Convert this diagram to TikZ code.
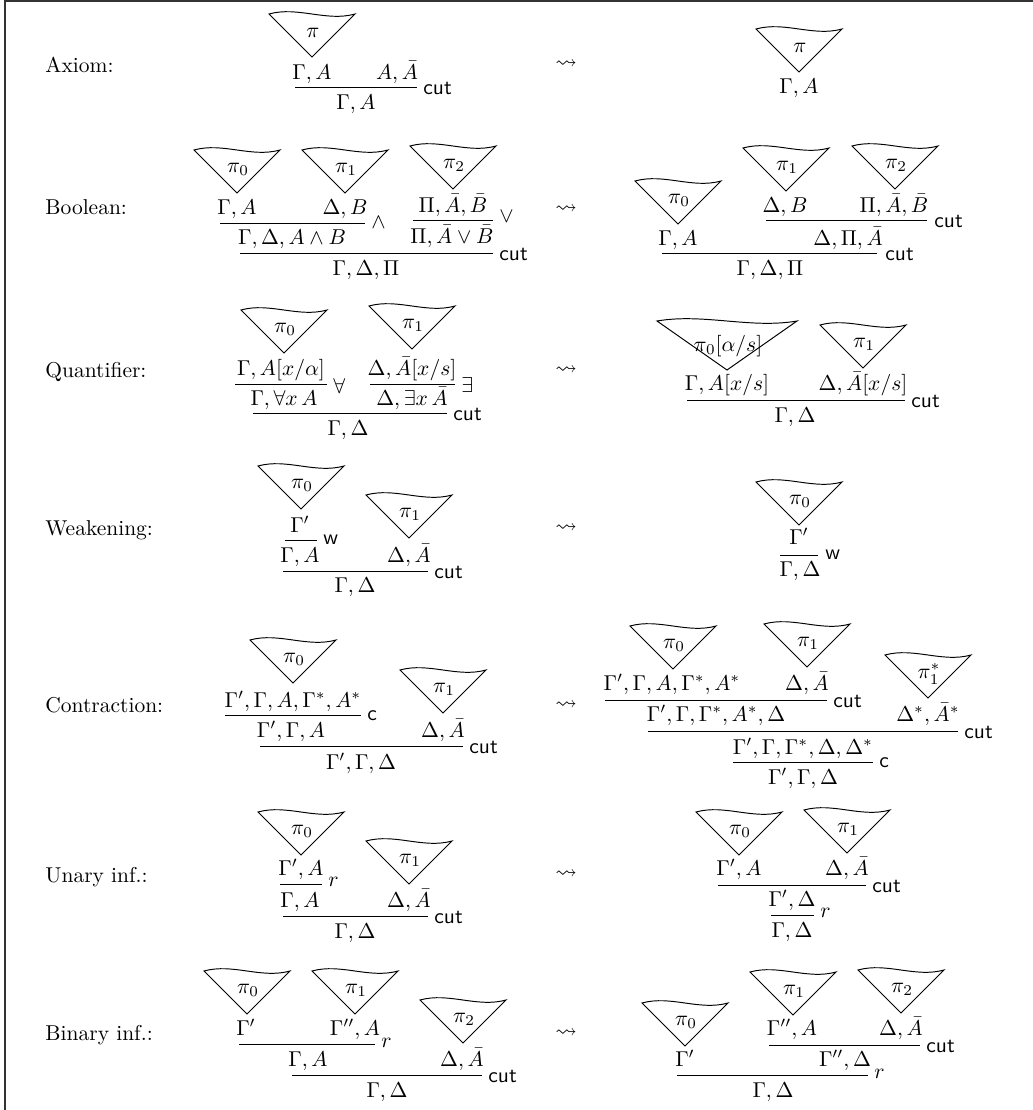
\documentclass[tikz,border=0pt]{standalone}
\usepackage{amssymb}
\newcommand\ptri[5]{%
  \begin{scope}[shift={(#2)}]
    \draw[tri] (-#3,-#4) .. controls (-#3/3,-#4-8) and (#3/3,-#4+8) .. (#3,-#4) -- (0,0) -- cycle;
    \node[inner sep=0pt] (#1) at (1,-24) {$#5$};
  \end{scope}}
\begin{document}
\begin{tikzpicture}[x=0.4651pt,y=-0.4651pt,
  seq/.style={anchor=base,inner sep=0pt},
  lab/.style={anchor=base west,inner sep=0pt},
  arr/.style={anchor=center,inner sep=0pt},
  rn/.style={anchor=west,inner sep=0pt},
  tri/.style={line width=0.45pt,line join=miter},
  inf/.style={line width=0.4pt}]
\useasboundingbox (0,0) rectangle (1033,1110);
\draw[line width=0.8pt,black!80] (5,1110) -- (5,1) -- (1033,1);

% ---------- Axiom
\node[lab] (l1) at (45,72) {Axiom:};
\node[arr] (t1) at (566,64) {$\leadsto$};
\ptri{aLt}{312,57}{43}{43}{\pi}
\node[seq] (aLp1) at (312,79) {$\Gamma, A$};
\node[seq] (aLp2) at (397,79) {$A, \bar A$};
\draw[inf] (295,87) -- (417,87);
\node[rn] (aLr) at (423,88) {\textsf{cut}};
\node[seq] (aLc) at (356,109) {$\Gamma, A$};
\ptri{aRt}{799,72}{43}{43}{\pi}
\node[seq] (aRc) at (799,93) {$\Gamma, A$};

% ---------- Boolean
\node[lab] (l2) at (45,214) {Boolean:};
\node[arr] (t2) at (566,209) {$\leadsto$};
\ptri{bLt0}{237,193}{43}{43}{\pi_0}
\ptri{bLt1}{345,193}{43}{43}{\pi_1}
\ptri{bLt2}{453,189}{43}{43}{\pi_2}
\node[seq] (bLp1) at (237,214) {$\Gamma, A$};
\node[seq] (bLp2) at (345,214) {$\Delta, B$};
\node[seq] (bLp3) at (453,212) {$\Pi, \bar A, \bar B$};
\draw[inf] (220,223) -- (365,223);
\node[rn] (bLr1) at (371,223) {$\wedge$};
\draw[inf] (413,220) -- (493,220);
\node[rn] (bLr2) at (499,217) {$\vee$};
\node[seq] (bLq1) at (292,244) {$\Gamma, \Delta, A \wedge B$};
\node[seq] (bLq2) at (452,243) {$\Pi, \bar A \vee \bar B$};
\draw[inf] (240,253) -- (493,253);
\node[rn] (bLr3) at (499,254) {\textsf{cut}};
\node[seq] (bLc) at (366,275) {$\Gamma, \Delta, \Pi$};
\ptri{bRt0}{678,224}{43}{43}{\pi_0}
\ptri{bRt1}{786,191}{43}{43}{\pi_1}
\ptri{bRt2}{895,189}{43}{43}{\pi_2}
\node[seq] (bRp2) at (785,212) {$\Delta, B$};
\node[seq] (bRp3) at (894,212) {$\Pi, \bar A, \bar B$};
\draw[inf] (766,220) -- (927,220);
\node[rn] (bRr1) at (934,221) {\textsf{cut}};
\node[seq] (bRp1) at (678,245) {$\Gamma, A$};
\node[seq] (bRq) at (848,245) {$\Delta, \Pi, \bar A$};
\draw[inf] (662,253) -- (877,253);
\node[rn] (bRr2) at (885,254) {\textsf{cut}};
\node[seq] (bRc) at (770,275) {$\Gamma, \Delta, \Pi$};

% ---------- Quantifier
\node[lab] (l3) at (45,377) {Quantifier:};
\node[arr] (t3) at (566,370) {$\leadsto$};
\ptri{qLt0}{284,353}{43}{43}{\pi_0}
\ptri{qLt1}{412,349}{43}{43}{\pi_1}
\node[seq] (qLp1) at (281,375) {$\Gamma, A[x/\alpha]$};
\node[seq] (qLp2) at (412,375) {$\Delta, \bar A[x/s]$};
\draw[inf] (235,384) -- (327,384);
\node[rn] (qLr1) at (333,386) {$\forall$};
\draw[inf] (370,384) -- (455,384);
\node[rn] (qLr2) at (461,385) {$\exists$};
\node[seq] (qLq1) at (284,405) {$\Gamma, \forall x\, A$};
\node[seq] (qLq2) at (412,405) {$\Delta, \exists x\, \bar A$};
\draw[inf] (253,413) -- (447,413);
\node[rn] (qLr3) at (453,414) {\textsf{cut}};
\node[seq] (qLc) at (348,435) {$\Gamma, \Delta$};
\ptri{qRt0}{727,370}{70}{49}{\pi_0[\alpha/s]}
\ptri{qRt1}{863,368}{43}{43}{\pi_1}
\node[seq] (qRp1) at (727,390) {$\Gamma, A[x/s]$};
\node[seq] (qRp2) at (863,390) {$\Delta, \bar A[x/s]$};
\draw[inf] (687,400) -- (905,400);
\node[rn] (qRr) at (911,401) {\textsf{cut}};
\node[seq] (qRc) at (795,422) {$\Gamma, \Delta$};

% ---------- Weakening
\node[lab] (l4) at (45,535) {Weakening:};
\node[arr] (t4) at (566,528) {$\leadsto$};
\ptri{wLt0}{301,509}{43}{43}{\pi_0}
\ptri{wLt1}{409,538}{43}{43}{\pi_1}
\node[seq] (wLp1) at (300,532) {$\Gamma'$};
\draw[inf] (285,540) -- (317,540);
\node[rn] (wLr1) at (323,540) {\textsf{w}};
\node[seq] (wLq1) at (300,562) {$\Gamma, A$};
\node[seq] (wLq2) at (409,562) {$\Delta, \bar A$};
\draw[inf] (283,571) -- (428,571);
\node[rn] (wLr2) at (434,572) {\textsf{cut}};
\node[seq] (wLc) at (355,592) {$\Gamma, \Delta$};
\ptri{wRt0}{799,525}{43}{43}{\pi_0}
\node[seq] (wRp) at (799,544) {$\Gamma'$};
\draw[inf] (780,555) -- (818,555);
\node[rn] (wRr) at (825,555) {\textsf{w}};
\node[seq] (wRc) at (800,576) {$\Gamma, \Delta$};

% ---------- Contraction
\node[lab] (l5) at (45,712) {Contraction:};
\node[arr] (t5) at (566,705) {$\leadsto$};
\ptri{cLt0}{293,683}{43}{43}{\pi_0}
\ptri{cLt1}{443,713}{43}{43}{\pi_1}
\node[seq] (cLp1) at (293,707) {$\Gamma', \Gamma, A, \Gamma^*, A^*$};
\draw[inf] (225,715) -- (361,715);
\node[rn] (cLr1) at (367,716) {\textsf{c}};
\node[seq] (cLq1) at (291,737) {$\Gamma', \Gamma, A$};
\node[seq] (cLq2) at (443,737) {$\Delta, \bar A$};
\draw[inf] (260,746) -- (463,746);
\node[rn] (cLr2) at (469,747) {\textsf{cut}};
\node[seq] (cLc) at (361,769) {$\Gamma', \Gamma, \Delta$};
\ptri{cRt0}{673,669}{43}{43}{\pi_0}
\ptri{cRt1}{807,667}{43}{43}{\pi_1}
\ptri{cRt2}{928,698}{43}{43}{\pi_1^*}
\node[seq] (cRp1) at (672,690) {$\Gamma', \Gamma, A, \Gamma^*, A^*$};
\node[seq] (cRp2) at (807,690) {$\Delta, \bar A$};
\draw[inf] (605,700) -- (827,700);
\node[rn] (cRr1) at (833,701) {\textsf{cut}};
\node[seq] (cRq1) at (716,721) {$\Gamma', \Gamma, \Gamma^*, A^*, \Delta$};
\node[seq] (cRq2) at (928,721) {$\Delta^*, \bar A^*$};
\draw[inf] (648,731) -- (958,731);
\node[rn] (cRr2) at (964,732) {\textsf{cut}};
\node[seq] (cRq3) at (803,754) {$\Gamma', \Gamma, \Gamma^*, \Delta, \Delta^*$};
\draw[inf] (733,762) -- (873,762);
\node[rn] (cRr3) at (879,763) {\textsf{c}};
\node[seq] (cRc) at (803,784) {$\Gamma', \Gamma, \Delta$};

% ---------- Unary inf.
\node[lab] (l6) at (45,882) {Unary inf.:};
\node[arr] (t6) at (566,874) {$\leadsto$};
\ptri{uLt0}{301,855}{43}{43}{\pi_0}
\ptri{uLt1}{409,884}{43}{43}{\pi_1}
\node[seq] (uLp1) at (301,875) {$\Gamma', A$};
\draw[inf] (280,884) -- (322,884);
\node[rn] (uLr1) at (328,882) {$r$};
\node[seq] (uLq1) at (300,907) {$\Gamma, A$};
\node[seq] (uLq2) at (409,907) {$\Delta, \bar A$};
\draw[inf] (283,916) -- (428,916);
\node[rn] (uLr2) at (434,917) {\textsf{cut}};
\node[seq] (uLc) at (355,938) {$\Gamma, \Delta$};
\ptri{uRt0}{739,855}{43}{43}{\pi_0}
\ptri{uRt1}{847,853}{43}{43}{\pi_1}
\node[seq] (uRp1) at (739,875) {$\Gamma', A$};
\node[seq] (uRp2) at (847,875) {$\Delta, \bar A$};
\draw[inf] (718,885) -- (866,885);
\node[rn] (uRr1) at (872,886) {\textsf{cut}};
\node[seq] (uRq) at (792,906) {$\Gamma', \Delta$};
\draw[inf] (771,915) -- (814,915);
\node[rn] (uRr2) at (820,913) {$r$};
\node[seq] (uRc) at (792,937) {$\Gamma, \Delta$};

% ---------- Binary inf.
\node[lab] (l7) at (45,1040) {Binary inf.:};
\node[arr] (t7) at (566,1033) {$\leadsto$};
\ptri{nLt0}{247,1014}{43}{43}{\pi_0}
\ptri{nLt1}{355,1014}{43}{43}{\pi_1}
\ptri{nLt2}{463,1043}{43}{43}{\pi_2}
\node[seq] (nLp1) at (246,1035) {$\Gamma'$};
\node[seq] (nLp2) at (355,1035) {$\Gamma'', A$};
\draw[inf] (239,1044) -- (375,1044);
\node[rn] (nLr1) at (381,1043) {$r$};
\node[seq] (nLq1) at (308,1066) {$\Gamma, A$};
\node[seq] (nLq2) at (462,1066) {$\Delta, \bar A$};
\draw[inf] (292,1075) -- (482,1075);
\node[rn] (nLr2) at (488,1076) {\textsf{cut}};
\node[seq] (nLc) at (387,1097) {$\Gamma, \Delta$};
\ptri{nRt0}{685,1046}{43}{43}{\pi_0}
\ptri{nRt1}{793,1015}{43}{43}{\pi_1}
\ptri{nRt2}{901,1013}{43}{43}{\pi_2}
\node[seq] (nRp1) at (792,1035) {$\Gamma'', A$};
\node[seq] (nRp2) at (901,1035) {$\Delta, \bar A$};
\draw[inf] (769,1045) -- (920,1045);
\node[rn] (nRr1) at (926,1046) {\textsf{cut}};
\node[seq] (nRq1) at (685,1066) {$\Gamma'$};
\node[seq] (nRq2) at (845,1066) {$\Gamma'', \Delta$};
\draw[inf] (677,1075) -- (868,1075);
\node[rn] (nRr2) at (874,1074) {$r$};
\node[seq] (nRc) at (773,1097) {$\Gamma, \Delta$};
\end{tikzpicture}
\end{document}
